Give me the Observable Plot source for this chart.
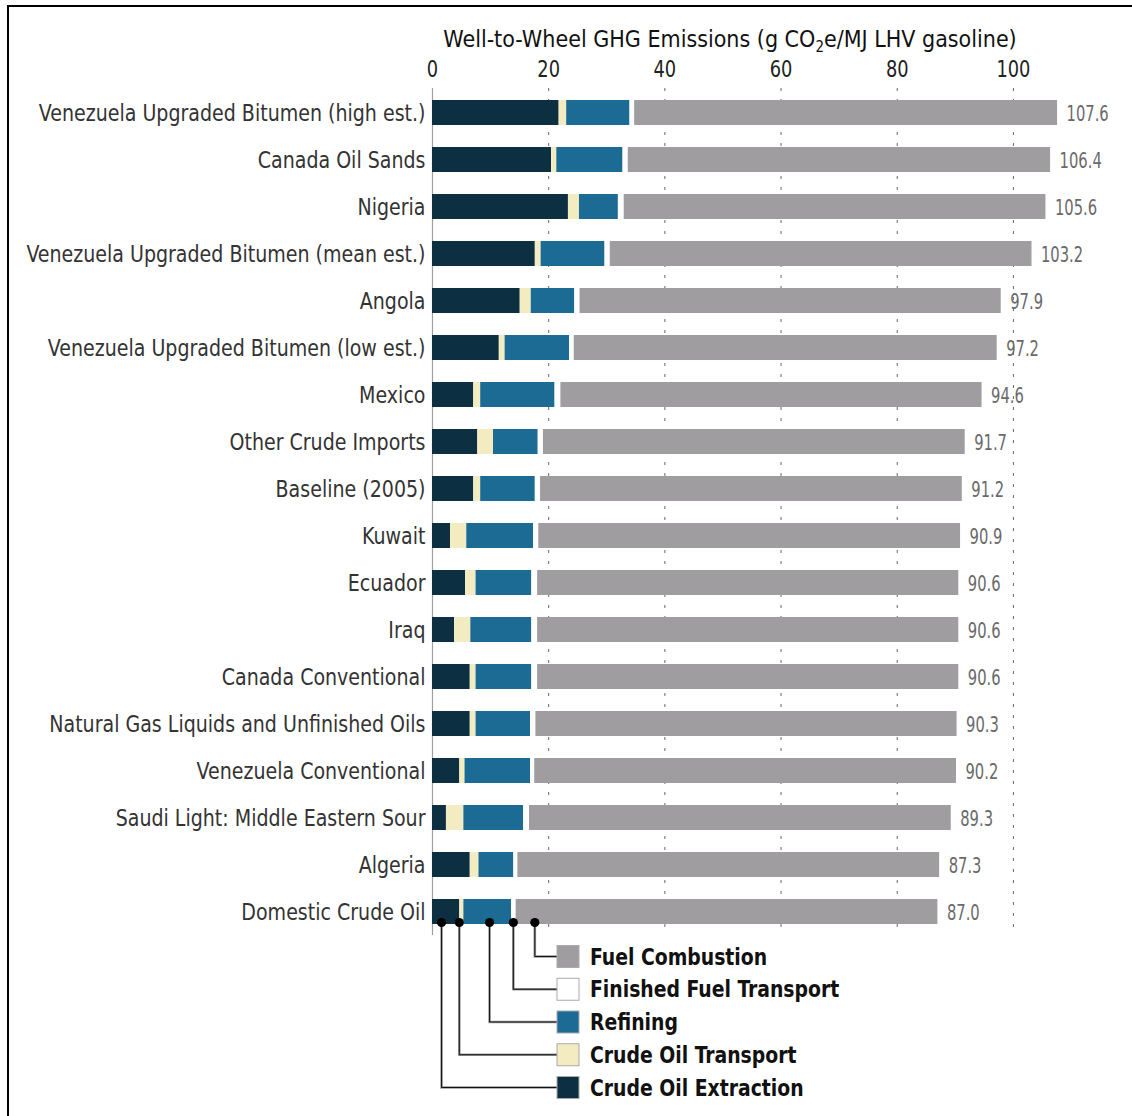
<!DOCTYPE html>
<html>
<head>
<meta charset="utf-8">
<script src="https://cdn.jsdelivr.net/npm/d3@7"></script>
<script src="https://cdn.jsdelivr.net/npm/@observablehq/plot@0.6"></script>
<style>
  body { margin: 0; background: #fff; }
  #frame { position: relative; width: 1132px; height: 1116px; overflow: hidden; }
  #frame::before { content: ""; position: absolute; left: 7px; top: 5px; right: 0; bottom: 0;
    border-left: 2px solid #000; border-top: 2px solid #000; pointer-events: none; }
  #frame svg { position: absolute; left: 0; top: 0; }
</style>
</head>
<body>
<div id="frame"></div>
<script>
// ---- data ----
const categories = [
  "Venezuela Upgraded Bitumen (high est.)",
  "Canada Oil Sands",
  "Nigeria",
  "Venezuela Upgraded Bitumen (mean est.)",
  "Angola",
  "Venezuela Upgraded Bitumen (low est.)",
  "Mexico",
  "Other Crude Imports",
  "Baseline (2005)",
  "Kuwait",
  "Ecuador",
  "Iraq",
  "Canada Conventional",
  "Natural Gas Liquids and Unfinished Oils",
  "Venezuela Conventional",
  "Saudi Light: Middle Eastern Sour",
  "Algeria",
  "Domestic Crude Oil"
];
const stages = ["Crude Oil Extraction", "Crude Oil Transport", "Refining", "Finished Fuel Transport", "Fuel Combustion"];
const extraction      = [21.8, 20.5, 23.4, 17.7, 15.1, 11.5, 7.1, 7.8, 7.1, 3.1, 5.7, 3.8, 6.5, 6.5, 4.7, 2.4, 6.5, 4.7];
const crudeTransport  = [ 1.3,  0.9,  1.9,  1.0,  1.9,  1.0, 1.2, 2.7, 1.2, 2.8, 1.8, 2.8, 1.0, 1.0, 0.9, 3.0, 1.5, 0.7];
const refining        = [10.9, 11.4,  6.7, 11.0,  7.5, 11.1, 12.8, 7.7, 9.4, 11.5, 9.6, 10.5, 9.6, 9.4, 11.3, 10.3, 6.0, 8.2];
const finishedTransport = [0.8, 0.9,  1.0,  0.9,  0.9,  0.8, 1.0, 0.9, 0.9, 0.9, 1.0, 1.0, 1.0, 0.9, 0.7, 1.0, 0.7, 0.8];
const combustion      = [72.8, 72.7, 72.6, 72.6, 72.5, 72.8, 72.5, 72.6, 72.6, 72.6, 72.5, 72.5, 72.5, 72.5, 72.6, 72.6, 72.6, 72.6];
const totals          = [107.6, 106.4, 105.6, 103.2, 97.9, 97.2, 94.6, 91.7, 91.2, 90.9, 90.6, 90.6, 90.6, 90.3, 90.2, 89.3, 87.3, 87.0];
const xTicks = [0, 20, 40, 60, 80, 100];
const stageColors = ["#0c2f41", "#f3ecc1", "#1b6b95", "#ffffff", "#a09da1"];

// ---- tables built from the arrays ----
const series = [extraction, crudeTransport, refining, finishedTransport, combustion];
const long = [];
categories.forEach((c, i) => stages.forEach((s, j) => long.push({category: c, stage: s, value: series[j][i]})));
const totalRows = categories.map((c, i) => ({category: c, total: totals[i]}));

const font = '"Liberation Sans Narrow", "DejaVu Sans Condensed", "Arial Narrow", sans-serif';

const chart = Plot.plot({
  width: 1132,
  height: 1116,
  marginLeft: 432,
  marginRight: 61,
  marginTop: 88,
  marginBottom: 181,
  style: {fontFamily: font, background: "transparent", overflow: "visible", color: "#222"},
  x: {domain: [0, 110]},
  y: {domain: categories, paddingInner: 0.47, paddingOuter: 0.235},
  color: {domain: stages, range: stageColors},
  marks: [
    Plot.gridX(xTicks.filter(d => d > 0), {stroke: "#666", strokeOpacity: 1, strokeDasharray: "3,8", strokeWidth: 1}),
    Plot.ruleX([0], {stroke: "#a0a0a0", strokeWidth: 1.2}),
    Plot.barX(long, Plot.stackX({x: "value", y: "category", fill: "stage"})),
    Plot.text(totalRows, {x: "total", y: "category", text: d => d.total.toFixed(1), dx: 9, dy: 1,
      textAnchor: "start", fontSize: 21, fill: "#6a6a6a"}),
    Plot.axisX(xTicks, {anchor: "top", tickSize: 0, tickPadding: 12, fontSize: 23, fill: "#222", label: null}),
    Plot.axisY({anchor: "left", tickSize: 0, tickPadding: 7, fontSize: 23, fill: "#333", label: null, dy: 1})
  ]
});

document.getElementById("frame").appendChild(chart);

const svg = d3.select(chart);

// narrow the condensed face a little further, keeping each text's anchor point fixed
function squeeze(sel, k) {
  sel.each(function() {
    const t = this.getAttribute("transform");
    if (t) {
      this.setAttribute("transform", t + ` scale(${k},1)`);
    } else {
      const x = +(this.getAttribute("x") || 0), y = +(this.getAttribute("y") || 0);
      this.removeAttribute("x"); this.removeAttribute("y");
      this.setAttribute("transform", `translate(${x},${y}) scale(${k},1)`);
    }
  });
}
squeeze(svg.selectAll('g[aria-label="y-axis tick label"] text'), 0.92);
squeeze(svg.selectAll('g[aria-label="x-axis tick label"] text'), 0.86);
squeeze(svg.selectAll('g[aria-label="text"] text'), 0.78);

// ---- title and leader-line legend, positioned with Plot's own scales ----
const xs = chart.scale("x");
const ys = chart.scale("y");
const X = v => xs.apply(v);

const title = svg.append("text")
  .attr("x", 730).attr("y", 47)
  .attr("text-anchor", "middle")
  .attr("font-size", 23).attr("fill", "#111")
  .attr("font-family", font);
title.append("tspan").text("Well-to-Wheel GHG Emissions (g CO");
title.append("tspan").text("2").attr("font-size", 15).attr("dy", 5);
title.append("tspan").text("e/MJ LHV gasoline)").attr("dy", -5);

const last = categories.length - 1;
const barBottom = ys.apply(categories[last]) + ys.bandwidth;
const dotY = barBottom - 1.5;
// anchor points on the last bar's segments
let acc = 0;
const segStart = series.map(s => { const v = acc; acc += s[last]; return v; });
const anchorFrac = [0.35, 0, 0.55, 0.5, null];
const anchors = stages.map((s, j) => j < 4
  ? segStart[j] + series[j][last] * anchorFrac[j]
  : segStart[j] + 3.3);

const boxX = 557, boxSize = 22, step = 32.75;
const lg = svg.append("g");
stages.slice().reverse().forEach((s, i) => {
  const j = stages.length - 1 - i;
  const ly = barBottom + 32.5 + i * step;
  const ax = X(anchors[j]);
  const d = `M${ax},${dotY}V${ly}H${boxX}`;
  lg.append("path").attr("d", d).attr("fill", "none").attr("stroke", "#9a9a9a").attr("stroke-width", 2.6);
  lg.append("path").attr("d", d).attr("fill", "none").attr("stroke", "#111").attr("stroke-width", 1);
  lg.append("circle").attr("cx", ax).attr("cy", dotY).attr("r", 4.6).attr("fill", "#000");
  lg.append("rect").attr("x", boxX).attr("y", ly - boxSize / 2).attr("width", boxSize).attr("height", boxSize)
    .attr("fill", stageColors[j]).attr("stroke", "#aaa").attr("stroke-width", 1);
  lg.append("text")
    .attr("transform", `translate(${boxX + 33},${ly}) scale(0.91,1)`)
    .attr("dy", "0.35em")
    .attr("text-anchor", "start")
    .attr("font-size", 23).attr("font-weight", "bold").attr("fill", "#111")
    .attr("font-family", font).text(s);
});
</script>
</body>
</html>
